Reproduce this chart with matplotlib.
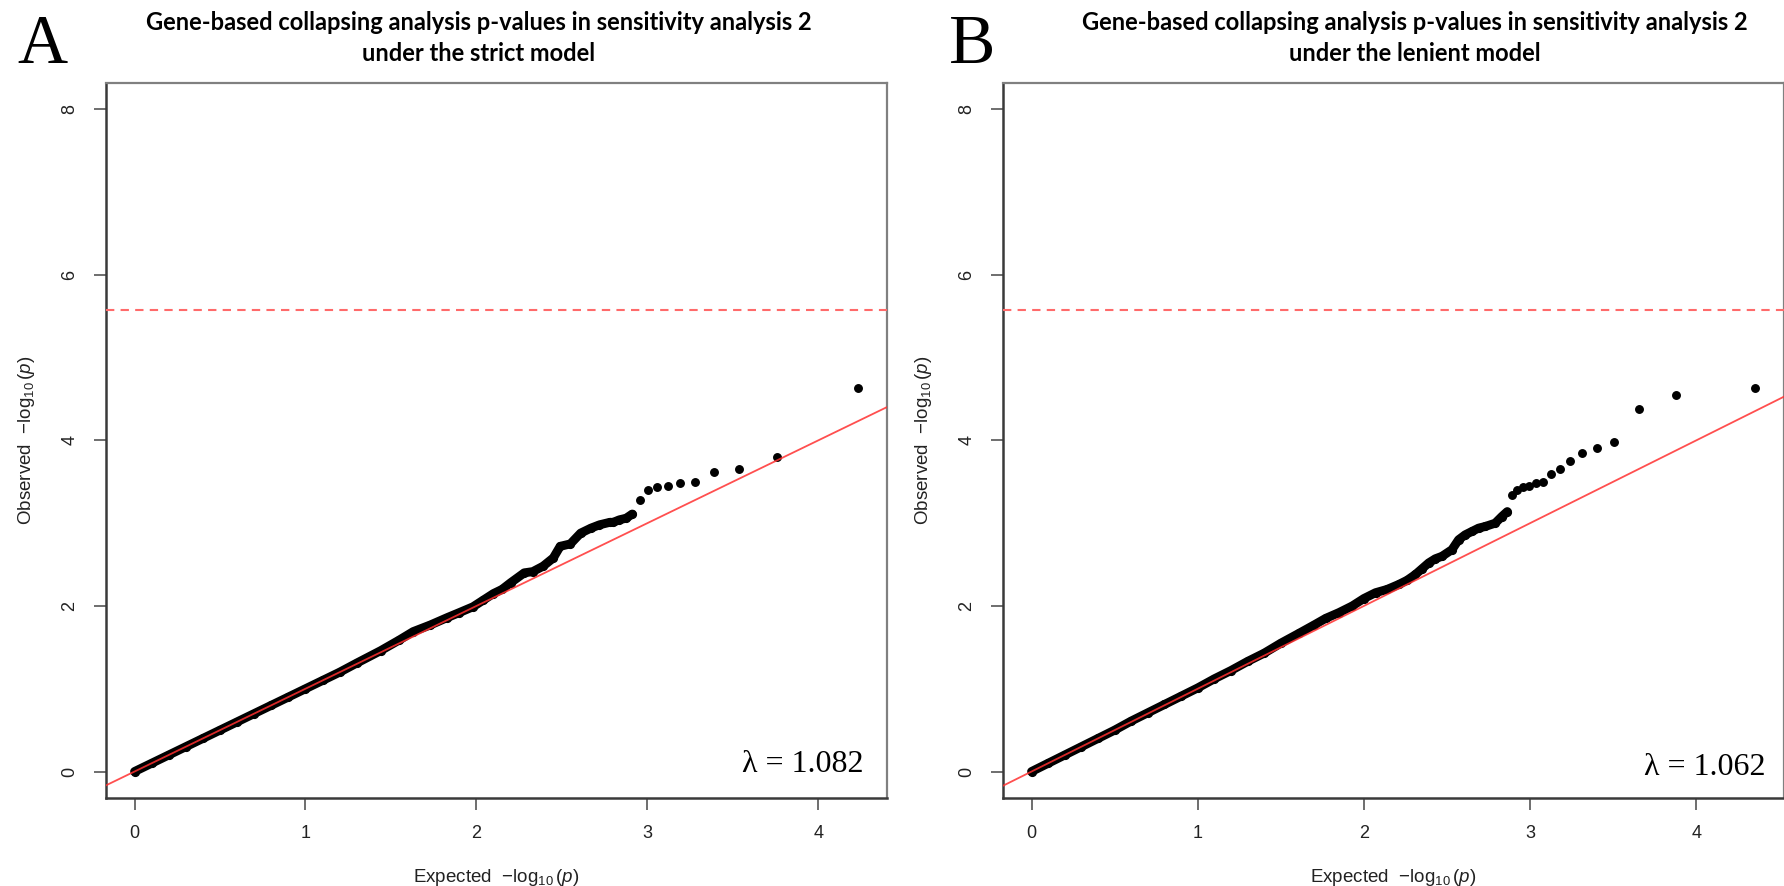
import matplotlib
matplotlib.use("Agg")
import matplotlib.pyplot as plt

# Q-Q data, -log10(p). "bulk" = the dense run of genes, "tail" = top-ranked genes
strict_bulk_exp = [0.00, 0.10, 0.20, 0.30, 0.40, 0.50, 0.60, 0.70, 0.80, 0.90,
                   1.00, 1.10, 1.20, 1.30, 1.44, 1.55, 1.63, 1.73, 1.83, 1.90,
                   1.98, 2.04, 2.10, 2.15, 2.20, 2.28, 2.33, 2.39, 2.45, 2.49,
                   2.55, 2.61, 2.67, 2.72, 2.78, 2.80, 2.836, 2.876, 2.912]
strict_bulk_obs = [0.00, 0.10, 0.20, 0.30, 0.40, 0.50, 0.60, 0.70, 0.80, 0.90,
                   1.00, 1.10, 1.20, 1.31, 1.46, 1.59, 1.69, 1.77, 1.86, 1.92,
                   1.99, 2.07, 2.15, 2.20, 2.28, 2.40, 2.415, 2.48, 2.58, 2.72,
                   2.75, 2.88, 2.94, 2.98, 3.01, 3.01, 3.04, 3.06, 3.11]
strict_tail_exp = [2.955, 3.004, 3.058, 3.119, 3.193, 3.279, 3.388, 3.536, 3.758, 4.233]
strict_tail_obs = [3.28, 3.40, 3.44, 3.45, 3.48, 3.495, 3.615, 3.66, 3.80, 4.63]

lenient_bulk_exp = [0.00, 0.10, 0.20, 0.30, 0.40, 0.50, 0.60, 0.70, 0.80, 0.90,
                    1.00, 1.10, 1.20, 1.30, 1.40, 1.50, 1.61, 1.70, 1.77, 1.85,
                    1.93, 2.00, 2.07, 2.14, 2.21, 2.26, 2.31, 2.35, 2.39, 2.43,
                    2.47, 2.53, 2.57, 2.61, 2.65, 2.69, 2.73, 2.79, 2.83, 2.863]
lenient_bulk_obs = [0.00, 0.10, 0.20, 0.30, 0.40, 0.50, 0.61, 0.71, 0.81, 0.91,
                    1.01, 1.12, 1.22, 1.33, 1.43, 1.55, 1.67, 1.77, 1.85, 1.92,
                    2.00, 2.09, 2.16, 2.20, 2.26, 2.31, 2.38, 2.45, 2.52, 2.57,
                    2.60, 2.68, 2.80, 2.86, 2.90, 2.94, 2.96, 3.00, 3.08, 3.14]
lenient_tail_exp = [2.889, 2.923, 2.955, 2.991, 3.033, 3.075, 3.125, 3.179,
                    3.241, 3.313, 3.40, 3.508, 3.654, 3.876, 4.354]
lenient_tail_obs = [3.34, 3.406, 3.434, 3.446, 3.48, 3.50, 3.595, 3.66,
                    3.75, 3.845, 3.91, 3.98, 4.38, 4.553, 4.63]

sig_line = 5.58
lambdas = [1.082, 1.062]
letters = ["A", "B"]
titles = ["Gene-based collapsing analysis p-values in sensitivity analysis 2\nunder the strict model",
          "Gene-based collapsing analysis p-values in sensitivity analysis 2\nunder the lenient model"]

plt.rcParams["mathtext.fontset"] = "custom"
plt.rcParams["mathtext.rm"] = "Liberation Sans"
plt.rcParams["mathtext.it"] = "Liberation Sans:italic"

fig = plt.figure(figsize=(17.84, 8.86), dpi=100)
axes = [fig.add_axes([0.0592, 0.0993, 0.438, 0.8073]),
        fig.add_axes([0.5620, 0.0993, 0.438, 0.8073])]

panels = [(strict_bulk_exp, strict_bulk_obs, strict_tail_exp, strict_tail_obs),
          (lenient_bulk_exp, lenient_bulk_obs, lenient_tail_exp, lenient_tail_obs)]
lambda_pos = [(0.970, 0.036), (0.976, 0.032)]

for i, ax in enumerate(axes):
    bx, by, tx, ty = panels[i]
    ax.plot(bx, by, color="black", lw=6.4, solid_capstyle="round",
            solid_joinstyle="round", marker="o", ms=5.6, zorder=2)
    ax.plot(tx, ty, "o", color="black", ms=5.4, zorder=2)

    xmax = max(tx)
    pad = 0.04 * xmax
    ax.set_xlim(-pad, xmax + pad)
    ax.set_ylim(-0.32, 8.32)

    # y = x reference and significance threshold
    ax.axline((0, 0), slope=1, color="#ff3030", lw=1.3, alpha=0.85, zorder=3)
    ax.axhline(sig_line, color="#ff6a6a", lw=1.5, ls=(0, (4, 3)), zorder=3)

    ax.set_xticks([0, 1, 2, 3, 4])
    ax.set_yticks([0, 2, 4, 6, 8])
    ax.tick_params(direction="out", length=8.5, width=1.2, color="#555555",
                   labelsize=13, labelcolor="#222222", pad=11)
    for lab in ax.get_yticklabels():
        lab.set_rotation(90)
        lab.set_va("center")
    for lab in ax.get_xticklabels() + ax.get_yticklabels():
        lab.set_family("Liberation Sans")

    for side in ["left", "bottom"]:
        ax.spines[side].set_color("#3a3a3a")
        ax.spines[side].set_linewidth(1.8)
    for side in ["top", "right"]:
        ax.spines[side].set_color("#808080")
        ax.spines[side].set_linewidth(1.6)

    ax.set_xlabel("Expected  $-\\log_{10}(\\mathit{p})$", fontsize=13.5,
                  family="Liberation Sans", color="#222222", labelpad=18)
    ax.set_ylabel("Observed  $-\\log_{10}(\\mathit{p})$", fontsize=13.5,
                  family="Liberation Sans", color="#222222", labelpad=18)

    lx, ly = lambda_pos[i]
    ax.text(lx, ly, "\u03bb = %.3f" % lambdas[i], transform=ax.transAxes,
            ha="right", va="baseline", fontsize=23, family="Liberation Serif")

fig.text(0.2685, 0.988, titles[0], ha="center", va="top", fontsize=17,
         family="Lato", weight="bold", linespacing=1.45)
fig.text(0.7930, 0.988, titles[1], ha="center", va="top", fontsize=17,
         family="Lato", weight="bold", linespacing=1.45)
fig.text(0.024, 0.948, letters[0], ha="center", va="center", fontsize=50,
         family="Liberation Serif")
fig.text(0.545, 0.948, letters[1], ha="center", va="center", fontsize=50,
         family="Liberation Serif")

fig.savefig("out.png", dpi=100)
